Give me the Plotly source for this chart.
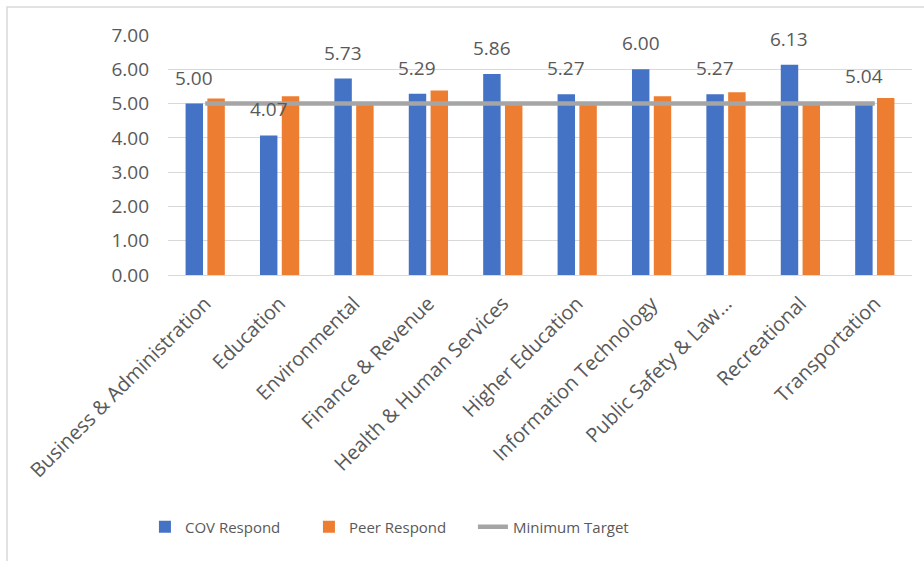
import plotly.graph_objects as go

# Service areas and scores
categories = [
    "Business & Administration",
    "Education",
    "Environmental",
    "Finance & Revenue",
    "Health & Human Services",
    "Higher Education",
    "Information Technology",
    "Public Safety & Law...",
    "Recreational",
    "Transportation",
]
cov_respond = [5.00, 4.07, 5.73, 5.29, 5.86, 5.27, 6.00, 5.27, 6.13, 5.04]
peer_respond = [5.15, 5.21, 4.98, 5.38, 4.98, 4.98, 5.21, 5.33, 4.98, 5.16]
minimum_target = [5.0] * len(categories)
y_ticks = [0, 1, 2, 3, 4, 5, 6, 7]

BLUE = "#4472C4"
ORANGE = "#ED7D31"
GRAY = "#A5A5A5"
TEXT = "#595959"
GRID = "#D9D9D9"
FONT = "Open Sans"

fig = go.Figure()
fig.add_trace(go.Bar(x=categories, y=cov_respond, name="COV Respond",
                     marker=dict(color=BLUE, line=dict(width=0))))
fig.add_trace(go.Bar(x=categories, y=peer_respond, name="Peer Respond",
                     marker=dict(color=ORANGE, line=dict(width=0))))
fig.add_trace(go.Scatter(x=categories, y=minimum_target, name="Minimum Target",
                         mode="lines", line=dict(color=GRAY, width=4.5)))

# value labels above the COV bars
for cat, v in zip(categories, cov_respond):
    fig.add_annotation(x=cat, y=v, text=f"{v:.2f}", showarrow=False,
                       xshift=-11, yshift=11, yanchor="bottom",
                       font=dict(family=FONT, size=19, color=TEXT))

# light outer frame of the chart area
fig.add_shape(type="rect", xref="paper", yref="paper",
              x0=-0.2164, x1=1.05, y0=-1.45, y1=1.1167,
              line=dict(color=GRID, width=1.5), fillcolor="rgba(0,0,0,0)")

fig.update_layout(
    width=924, height=561,
    margin=dict(l=168, r=12, t=35, b=286),
    paper_bgcolor="white", plot_bgcolor="white",
    barmode="group", bargap=0.414, bargroupgap=0.2,
    font=dict(family=FONT, color=TEXT),
    showlegend=True,
    legend=dict(orientation="h", x=-0.031, xanchor="left", y=-1.05,
                yanchor="middle", font=dict(family=FONT, size=15, color=TEXT),
                entrywidth=119, entrywidthmode="pixels",
                traceorder="normal", bgcolor="rgba(0,0,0,0)"),
    xaxis=dict(tickangle=-45, showgrid=False, showline=True, linecolor=GRID,
               linewidth=1, tickfont=dict(family=FONT, size=20, color=TEXT),
               ticks="", ticklabelstandoff=8, fixedrange=True),
    yaxis=dict(range=[0, 7], tickvals=y_ticks, tickformat=".2f",
               showgrid=True, gridcolor=GRID, gridwidth=1, zeroline=False,
               showline=False, ticks="", ticklabelstandoff=18,
               tickfont=dict(family=FONT, size=19, color=TEXT), fixedrange=True),
)

fig.write_html("out.html")
